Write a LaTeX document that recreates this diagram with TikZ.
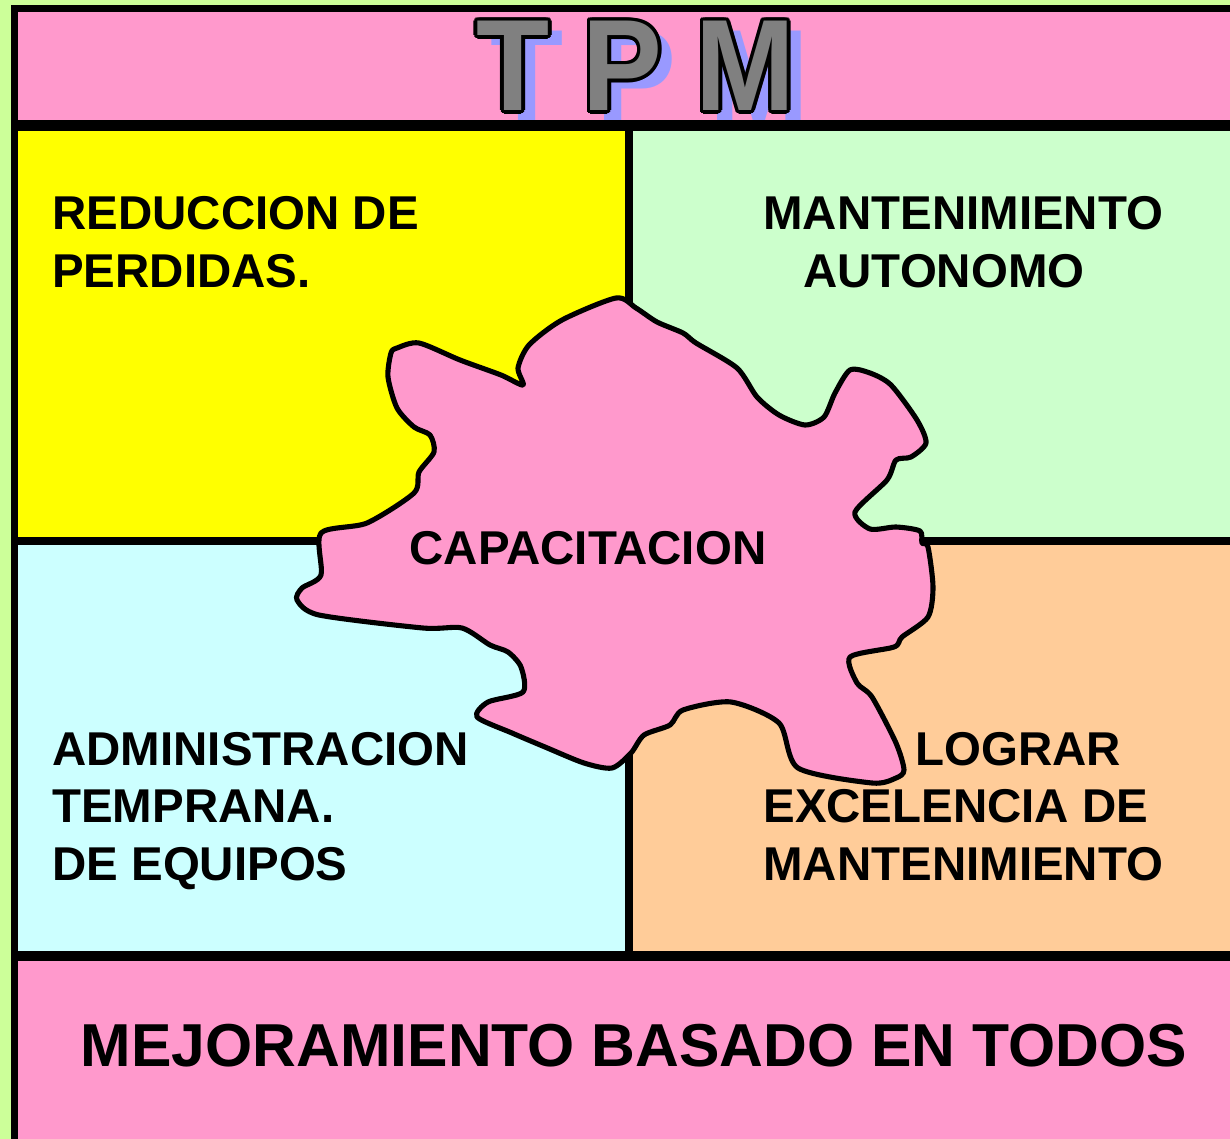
\documentclass[tikz,border=0pt]{standalone}
\usepackage{fontspec}
\setmainfont{Liberation Sans}

\definecolor{outergreen}{HTML}{CCFF99}
\definecolor{tpmpink}{HTML}{FF99CC}
\definecolor{tpmyellow}{HTML}{FFFF00}
\definecolor{tpmgreen}{HTML}{CCFFCC}
\definecolor{tpmcyan}{HTML}{CCFFFF}
\definecolor{tpmorange}{HTML}{FFCC99}
\definecolor{tpmgray}{HTML}{808080}
\definecolor{tpmshadow}{HTML}{9999FF}

\begin{document}
\begin{tikzpicture}[
        x = 0.2mm, y = -0.2mm,
        quadtext/.style = {%
            inner sep = 0pt, anchor = base west, align = left,
            font = \fontsize{27}{32.5}\selectfont\bfseries
        },
        tpmletters/.style = {%
            inner sep = 0pt, xscale = 0.92, transform shape,
            font = \fontsize{74}{80}\selectfont\bfseries
        },
        blob/.style = {%
            draw = black, line width = 2.9pt, line join = round,
            fill = tpmpink
        }
    ]

        \useasboundingbox (0, 0) rectangle (1230, 1139);

        % Background and black frame.
        \fill[outergreen] (0, 0) rectangle (1230, 1139);
        \fill[black] (11, 5) rectangle (1230, 1139);

        % Panels.
        \fill[tpmpink]   (18, 12)   rectangle (1230, 120);
        \fill[tpmyellow] (18, 131)  rectangle (625, 537);
        \fill[tpmgreen]  (633, 131) rectangle (1230, 537);
        \fill[tpmcyan]   (18, 545)  rectangle (625, 951);
        \fill[tpmorange] (633, 545) rectangle (1230, 951);
        \fill[tpmpink]   (18, 961)  rectangle (1230, 1139);

        % Title with shadow and outline.
        \node[tpmletters, text = tpmshadow] (tpm-shadow) at (650, 76) {T P M};
        \foreach \a [count = \i] in {0, 30, ..., 330}{%
            \node[tpmletters, text = black] (tpm-ring-\i)
                at ([shift = {(\a:3.6)}] 636, 66) {T P M};
        }
        \node[tpmletters, text = tpmgray] (tpm) at (636, 66) {T P M};

        % Quadrant labels (anchored on the last line).
        \node[quadtext] (perdidas) at (52, 287) {REDUCCION DE\\PERDIDAS.};
        \node[quadtext] (autonomo) at (763, 287)
            {MANTENIMIENTO\\\hspace*{0.8cm}AUTONOMO};
        \node[quadtext] (equipos) at (52, 880)
            {ADMINISTRACION\\TEMPRANA.\\DE EQUIPOS};

        % Central blob.
        \draw[blob] plot[smooth cycle, tension = 0.45] coordinates {
            (616, 298) (636, 308) (657, 322) (683, 333) (696, 343)
            (737, 368) (757, 397) (779, 415) (805, 425) (824, 417)
            (835, 393) (850, 370) (870, 373) (891, 385) (917, 420)
            (926, 443) (911, 457) (896, 460) (887, 480) (855, 512)
            (870, 529) (896, 527) (920, 531) (922, 543) (928, 547)
            (933, 587) (928, 617) (902, 637) (894, 647) (850, 657)
            (857, 683) (872, 697) (896, 743) (904, 770) (896, 778)
            (872, 783) (798, 768) (779, 723) (731, 702) (683, 710)
            (670, 725) (644, 735) (631, 753) (612, 768) (584, 763)
            (545, 747) (512, 733) (477, 717) (488, 702) (523, 692)
            (521, 667) (508, 652) (490, 645) (462, 628) (423, 628)
            (319, 615) (297, 600) (302, 588) (321, 575) (321, 533)
            (367, 523) (414, 493) (419, 472) (434, 452) (430, 435)
            (414, 427) (397, 408) (388, 377) (391, 353) (397, 348)
            (419, 343) (460, 360) (501, 375) (523, 385) (518, 368)
            (529, 345) (562, 320)
        };
        \node[quadtext, anchor = center] (capacitacion) at (588, 548)
            {CAPACITACION};

        \node[quadtext] (lograr) at (763, 880)
            {\hspace*{3.04cm}LOGRAR\\EXCELENCIA DE\\MANTENIMIENTO};

        % Bottom band.
        \node[inner sep = 0pt, anchor = base,
            font = \fontsize{34.5}{40}\selectfont\bfseries]
            (todos) at (634, 1066) {MEJORAMIENTO BASADO EN TODOS};

\end{tikzpicture}
\end{document}
